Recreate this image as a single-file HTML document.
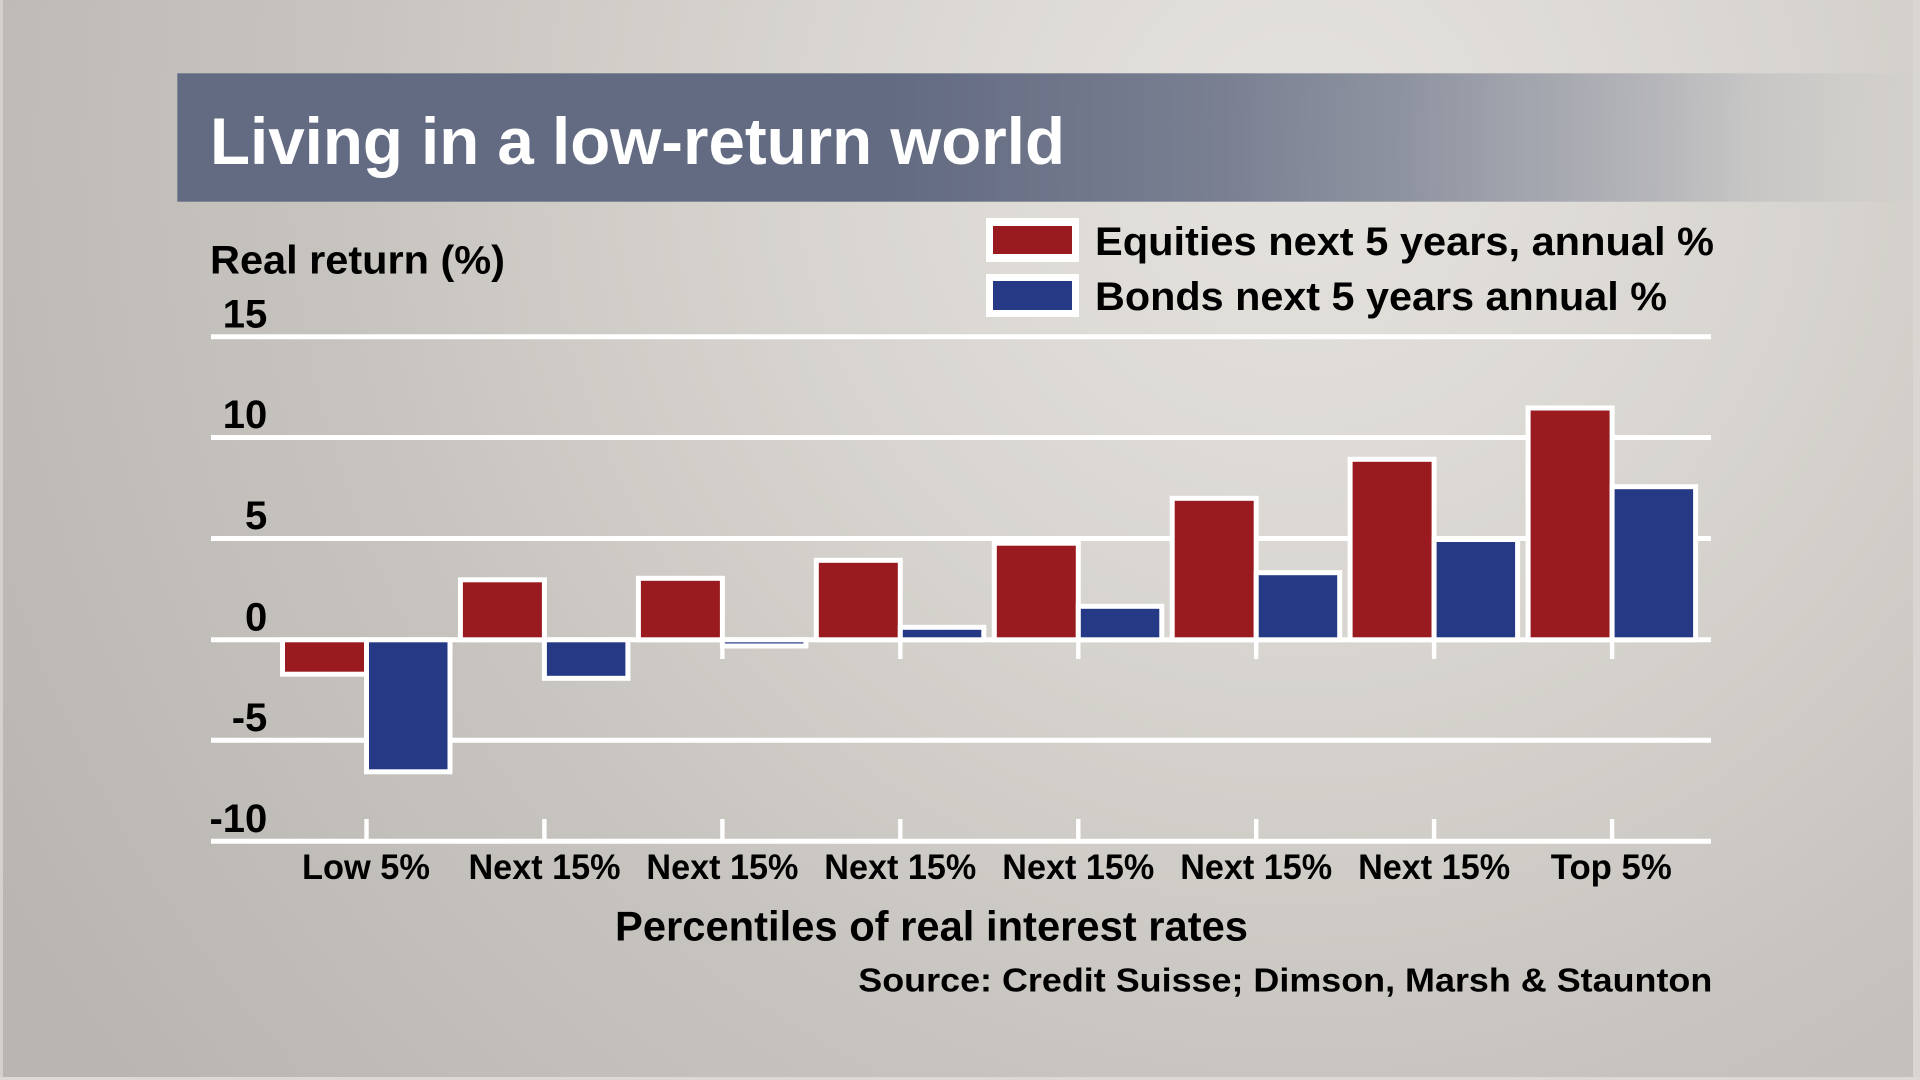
<!DOCTYPE html>
<html>
<head>
<meta charset="utf-8">
<style>
  html, body { margin: 0; padding: 0; }
  body { width: 1920px; height: 1080px; overflow: hidden; }
  svg { display: block; }
  text { font-family: "Liberation Sans", Arial, sans-serif; font-weight: bold; }
</style>
</head>
<body>
<svg width="1920" height="1080" viewBox="0 0 1920 1080" xmlns="http://www.w3.org/2000/svg">
  <defs>
    <radialGradient id="bg" gradientUnits="userSpaceOnUse" cx="1300" cy="150" r="1500">
      <stop offset="0" stop-color="#e4e2dd"/>
      <stop offset="0.2" stop-color="#dedbd6"/>
      <stop offset="0.37" stop-color="#d6d3ce"/>
      <stop offset="0.5" stop-color="#cfcbc6"/>
      <stop offset="0.66" stop-color="#c6c2be"/>
      <stop offset="0.75" stop-color="#c3bfbb"/>
      <stop offset="0.9" stop-color="#bdb9b5"/>
      <stop offset="1" stop-color="#b9b5b1"/>
    </radialGradient>
    <linearGradient id="tb" gradientUnits="userSpaceOnUse" x1="177" y1="0" x2="1920" y2="0">
      <stop offset="0" stop-color="#636b82" stop-opacity="1"/>
      <stop offset="0.41" stop-color="#636b82" stop-opacity="1"/>
      <stop offset="0.6" stop-color="#636b82" stop-opacity="0.82"/>
      <stop offset="0.7" stop-color="#636b82" stop-opacity="0.66"/>
      <stop offset="0.845" stop-color="#636b82" stop-opacity="0.33"/>
      <stop offset="0.9" stop-color="#636b82" stop-opacity="0.16"/>
      <stop offset="0.96" stop-color="#636b82" stop-opacity="0.05"/>
      <stop offset="1" stop-color="#636b82" stop-opacity="0"/>
    </linearGradient>
  </defs>

  <!-- background -->
  <rect x="0" y="0" width="1920" height="1080" fill="url(#bg)"/>
  <!-- light border strips -->
  <rect x="0" y="0" width="3" height="1080" fill="#d4d1cd"/>
  <rect x="1913" y="0" width="7" height="1080" fill="#d9d6d2"/>
  <rect x="0" y="1077" width="1920" height="3" fill="#dcd9d5"/>

  <!-- title bar -->
  <rect x="177.3" y="73.3" width="1742.7" height="128.4" fill="url(#tb)"/>
  <text x="210" y="164" font-size="65.5" fill="#ffffff" textLength="855" lengthAdjust="spacingAndGlyphs">Living in a low-return world</text>

  <!-- y axis title -->
  <text x="210" y="273.3" font-size="40" fill="#000" textLength="295" lengthAdjust="spacingAndGlyphs">Real return (%)</text>

  <!-- legend -->
  <rect x="986" y="218" width="93" height="44" fill="#ffffff"/>
  <rect x="993" y="226" width="79" height="28" fill="#991b1f"/>
  <rect x="986" y="274" width="93" height="43" fill="#ffffff"/>
  <rect x="993" y="281" width="79" height="29" fill="#253984"/>
  <text x="1095" y="255" font-size="40" fill="#000" textLength="619" lengthAdjust="spacingAndGlyphs">Equities next 5 years, annual %</text>
  <text x="1095" y="310" font-size="40" fill="#000" textLength="572" lengthAdjust="spacingAndGlyphs">Bonds next 5 years annual %</text>

  <!-- y tick labels -->
  <g font-size="40" fill="#000" text-anchor="end">
    <text x="267.3" y="327.3">15</text>
    <text x="267.3" y="428.2">10</text>
    <text x="267.3" y="529.2">5</text>
    <text x="267.3" y="630.4">0</text>
    <text x="267.3" y="731">-5</text>
    <text x="267.3" y="832">-10</text>
  </g>

  <!-- gridlines -->
  <g stroke="#ffffff" stroke-width="5">
    <line x1="211" y1="336.7" x2="1711" y2="336.7"/>
    <line x1="211" y1="437.5" x2="1711" y2="437.5"/>
    <line x1="211" y1="538.5" x2="1711" y2="538.5"/>
    <line x1="211" y1="639.8" x2="1711" y2="639.8"/>
    <line x1="211" y1="740.3" x2="1711" y2="740.3"/>
    <line x1="211" y1="841.3" x2="1711" y2="841.3"/>
  </g>

  <!-- ticks -->
  <g stroke="#ffffff" stroke-width="4.4">
    <line x1="366.5" y1="640" x2="366.5" y2="659"/>
    <line x1="544.4" y1="640" x2="544.4" y2="659"/>
    <line x1="722.4" y1="640" x2="722.4" y2="659"/>
    <line x1="900.3" y1="640" x2="900.3" y2="659"/>
    <line x1="1078.3" y1="640" x2="1078.3" y2="659"/>
    <line x1="1256.2" y1="640" x2="1256.2" y2="659"/>
    <line x1="1434.1" y1="640" x2="1434.1" y2="659"/>
    <line x1="1612.1" y1="640" x2="1612.1" y2="659"/>

    <line x1="366.5" y1="819" x2="366.5" y2="841"/>
    <line x1="544.4" y1="819" x2="544.4" y2="841"/>
    <line x1="722.4" y1="819" x2="722.4" y2="841"/>
    <line x1="900.3" y1="819" x2="900.3" y2="841"/>
    <line x1="1078.3" y1="819" x2="1078.3" y2="841"/>
    <line x1="1256.2" y1="819" x2="1256.2" y2="841"/>
    <line x1="1434.1" y1="819" x2="1434.1" y2="841"/>
    <line x1="1612.1" y1="819" x2="1612.1" y2="841"/>
  </g>

  <!-- bars -->
  <g stroke="#ffffff" stroke-width="5">
    <!-- g0 Low 5% -->
    <rect x="282.5" y="639.8" width="84" height="34.4" fill="#991b1f"/>
    <rect x="366.5" y="639.8" width="83.5" height="132" fill="#253984"/>
    <!-- g1 -->
    <rect x="460.4" y="579.8" width="84" height="60" fill="#991b1f"/>
    <rect x="544.4" y="639.8" width="83.5" height="38.5" fill="#253984"/>
    <!-- g2 -->
    <rect x="638.4" y="578.3" width="84" height="61.5" fill="#991b1f"/>
    <rect x="722.4" y="639.8" width="83.5" height="6.2" fill="#253984"/>
    <!-- g3 -->
    <rect x="816.3" y="560.3" width="84" height="79.5" fill="#991b1f"/>
    <rect x="900.3" y="627.3" width="83.5" height="12.5" fill="#253984"/>
    <!-- g4 -->
    <rect x="994.3" y="543.2" width="84" height="96.6" fill="#991b1f"/>
    <rect x="1078.3" y="606.3" width="83.5" height="33.5" fill="#253984"/>
    <!-- g5 -->
    <rect x="1172.2" y="498.3" width="84" height="141.5" fill="#991b1f"/>
    <rect x="1256.2" y="572.7" width="83.5" height="67.1" fill="#253984"/>
    <!-- g6 -->
    <rect x="1350.1" y="459.3" width="84" height="180.5" fill="#991b1f"/>
    <rect x="1434.1" y="539.5" width="83.5" height="100.3" fill="#253984"/>
    <!-- g7 -->
    <rect x="1528.1" y="408" width="84" height="231.8" fill="#991b1f"/>
    <rect x="1612.1" y="486.7" width="83.5" height="153.1" fill="#253984"/>
  </g>

  <!-- category labels -->
  <g font-size="35" fill="#000" text-anchor="middle">
    <text x="366" y="879" textLength="128" lengthAdjust="spacingAndGlyphs">Low 5%</text>
    <text x="544.5" y="879" textLength="152" lengthAdjust="spacingAndGlyphs">Next 15%</text>
    <text x="722.4" y="879" textLength="152" lengthAdjust="spacingAndGlyphs">Next 15%</text>
    <text x="900.3" y="879" textLength="152" lengthAdjust="spacingAndGlyphs">Next 15%</text>
    <text x="1078.3" y="879" textLength="152" lengthAdjust="spacingAndGlyphs">Next 15%</text>
    <text x="1256.2" y="879" textLength="152" lengthAdjust="spacingAndGlyphs">Next 15%</text>
    <text x="1434.1" y="879" textLength="152" lengthAdjust="spacingAndGlyphs">Next 15%</text>
    <text x="1611.3" y="879" textLength="121" lengthAdjust="spacingAndGlyphs">Top 5%</text>
  </g>

  <!-- x axis title -->
  <text x="615" y="940.7" font-size="42" fill="#000" textLength="633" lengthAdjust="spacingAndGlyphs">Percentiles of real interest rates</text>

  <!-- source -->
  <text x="858.3" y="991.7" font-size="33.5" fill="#000" textLength="854" lengthAdjust="spacingAndGlyphs">Source: Credit Suisse; Dimson, Marsh &amp; Staunton</text>
</svg>
</body>
</html>
